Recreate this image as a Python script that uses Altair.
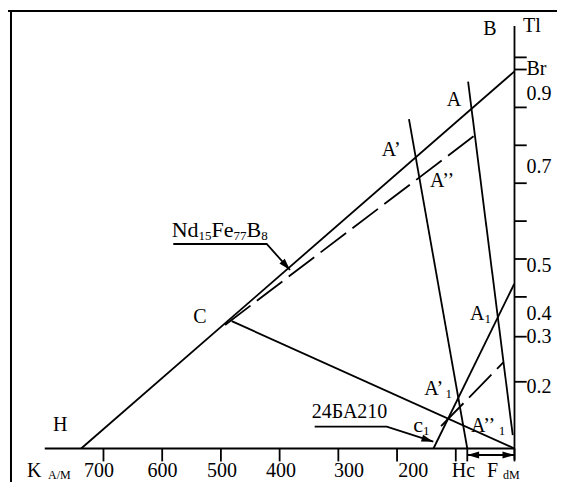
import altair as alt
import pandas as pd

# ---------------- plot calibration ----------------
H_MIN, H_MAX = -72.4, 862.6      # H axis runs right-to-left (kA/m)
B_MIN, B_MAX = -0.0884, 1.1623   # B axis (T)
WIDTH, HEIGHT = 549, 474
PX_H = WIDTH / (H_MAX - H_MIN)
PX_B = HEIGHT / (B_MAX - B_MIN)
FONT = "Liberation Serif"

# ---------------- curves (H kA/m, B T) ----------------
ndfeb_H = [738, 0];        ndfeb_B = [0, 0.995]      # Nd15Fe77B8 demagnetisation line
load_H = [481.6, 0];       load_B = [0.336, 0]       # C -> origin
lineA_H = [79, 3];         lineA_B = [0.968, 0.035]  # through A
lineA2_H = [179.7, 80.4];  lineA2_B = [0.869, 0]     # through A'
c1_H = [138, 0.5];         c1_B = [0, 0.434]         # 24BA210 line
recoil_H = [493, 64.4];    recoil_B = [0.326, 0.83]  # dashed, through A''
recoil1_H = [125, 19];     recoil1_B = [0.059, 0.227]  # dashed, through A''1

# axes
xaxis_H = [800, 0];        xaxis_B = [0, 0]
yaxis_H = [0, 0];          yaxis_B = [-0.03, 1.115]
x_ticks = [700, 600, 500, 400, 300, 200, 100, 80.4, 0]
x_tick_end = -0.034
y_ticks = [0.176, 0.295, 0.4, 0.5, 0.6, 0.7, 0.8, 0.9, 1.0, 1.032]
y_tick_end = -20.8
x_labels = ["700", "600", "500", "400", "300", "200"]
x_label_H = [707.6, 599.5, 498, 397.6, 281.8, 172.3]
y_labels = ["Br", "0.9", "0.7", "0.5", "0.4", "0.3", "0.2"]
y_label_B = [0.9855, 0.9195, 0.7261, 0.4665, 0.339, 0.2776, 0.1464]
bottom_label_B = -0.0765
bottom_sub_B = -0.0805

# frame
frame_top_B = 1.1544
frame_left_H = 857.5

# arrows
arrow_nd_H = [581.1, 422.0, 382.3];  arrow_nd_B = [0.5396, 0.5396, 0.471]
arrow_24_H = [340.3, 217.6, 138.3];  arrow_24_B = [0.0575, 0.0575, 0.0179]
arrow_f_H = [80.4, 0.3];             arrow_f_B = [-0.0172, -0.0172]
head_H = [382.3, 138.3, 80.4, 0.3]
head_B = [0.471, 0.0179, -0.0172, -0.0172]
head_angle = [48, 17.8, 180, 0]

# ---------------- build tables ----------------
segs = []
def add(name, Hs, Bs, dashed=False):
    for i, (h, b) in enumerate(zip(Hs, Bs)):
        segs.append(dict(id=name, H=h, B=b, seq=i, dashed=dashed))

add("ndfeb", ndfeb_H, ndfeb_B)
add("load", load_H, load_B)
add("A", lineA_H, lineA_B)
add("A2", lineA2_H, lineA2_B)
add("c1", c1_H, c1_B)
add("xaxis", xaxis_H, xaxis_B)
add("yaxis", yaxis_H, yaxis_B)
add("arr_nd", arrow_nd_H, arrow_nd_B)
add("arr_24", arrow_24_H, arrow_24_B)
add("arr_f", arrow_f_H, arrow_f_B)
add("recoil", recoil_H, recoil_B, True)
add("recoil1", recoil1_H, recoil1_B, True)
seg_df = pd.DataFrame(segs)

xt_df = pd.DataFrame(dict(H=x_ticks, B=[0] * len(x_ticks), B2=[x_tick_end] * len(x_ticks)))
yt_df = pd.DataFrame(dict(B=y_ticks, H=[0] * len(y_ticks), H2=[y_tick_end] * len(y_ticks)))
frame_df = pd.DataFrame([
    dict(H=H_MAX, H2=H_MIN, B=frame_top_B, B2=frame_top_B),
    dict(H=frame_left_H, H2=frame_left_H, B=frame_top_B, B2=B_MIN),
])
head_df = pd.DataFrame(dict(H=head_H, B=head_B, angle=head_angle))

# text with subscripts
WID = {'A': 722, 'N': 722, 'd': 500, 'F': 556, 'e': 444, 'B': 667, 'c': 444,
       '’': 333, 'H': 722, 'K': 722, 'M': 889, '/': 278, 'T': 611, 'l': 278,
       'r': 333, '.': 250}
def tw(s, size):
    return sum(WID.get(ch, 500) for ch in s) / 1000 * size

texts = []
def label(parts, H0, B0):
    x = 0.0
    for s, size, sub in parts:
        drop = 3 if sub else 0
        texts.append(dict(text=s, H=H0 - x / PX_H, B=B0 - drop / PX_B, size=size))
        x += tw(s, size)

M, S = 20, 13
label([("B", M, False)], 53.1, 1.091)
label([("Tl", M, False)], -14.5, 1.0997)
for t, b in zip(y_labels, y_label_B):
    label([(t, M, False)], -20.5, b)
label([("K", M, False)], 830.2, bottom_label_B)
label([("A/M", 12, False)], 794.4, bottom_sub_B)
label([("F", M, False)], 46.8, bottom_label_B)
label([("dM", 12, False)], 19.6, bottom_sub_B)
label([("H", M, False)], 786, 0.047)
label([("C", M, False)], 547, 0.330)
label([("A", M, False)], 115.5, 0.9037)
label([("A’", M, False)], 226.2, 0.7718)
label([("A’’", M, False)], 143.9, 0.690)
label([("A", M, False), ("1", S, True)], 75.8, 0.339)
label([("A’", M, False), ("1", S, True)], 153.6, 0.1412)
label([("A’’", M, False), ("1", S, True)], 74.1, 0.0443)
label([("c", 22, False), ("1", S, True)], 172.3, 0.0435)
label([("24БА210", M, False)], 345.4, 0.0797)
label([("Nd", 22, False), ("15", S, True), ("Fe", 22, False), ("77", S, True),
       ("B", 22, False), ("8", S, True)], 583.8, 0.5588)
text_df = pd.DataFrame(texts)

ctext_df = pd.DataFrame(dict(text=x_labels + ["Hc"], H=x_label_H + [86.9],
                             B=[bottom_label_B] * (len(x_labels) + 1)))

# ---------------- chart ----------------
xs = alt.Scale(domain=[H_MIN, H_MAX], reverse=True, nice=False, zero=False)
ys = alt.Scale(domain=[B_MIN, B_MAX], nice=False, zero=False)
X = lambda f: alt.X(f, type="quantitative", scale=xs, axis=None)
Y = lambda f: alt.Y(f, type="quantitative", scale=ys, axis=None)

solid = alt.Chart(seg_df).transform_filter("!datum.dashed").mark_line(
    color="black", strokeWidth=1.8).encode(
    x=X("H"), y=Y("B"), detail="id:N", order="seq:Q")
dashed = alt.Chart(seg_df).transform_filter("datum.dashed").mark_line(
    color="black", strokeWidth=1.8, strokeDash=[32, 8]).encode(
    x=X("H"), y=Y("B"), detail="id:N", order="seq:Q")
xt = alt.Chart(xt_df).mark_rule(color="black", strokeWidth=1.8).encode(
    x=X("H"), y=Y("B"), y2="B2")
yt = alt.Chart(yt_df).mark_rule(color="black", strokeWidth=1.8).encode(
    y=Y("B"), x=X("H"), x2="H2")
frame = alt.Chart(frame_df).mark_rule(color="black", strokeWidth=2).encode(
    x=X("H"), x2="H2", y=Y("B"), y2="B2")
heads = alt.Chart(head_df).mark_point(
    shape="M0,0L-1,-0.3L-1,0.3Z", filled=True, size=560, color="black",
    opacity=1, strokeWidth=0).encode(
    x=X("H"), y=Y("B"), angle=alt.Angle("angle:Q", scale=None))
ltext = alt.Chart(text_df).mark_text(
    align="left", baseline="alphabetic", font=FONT, color="black").encode(
    x=X("H"), y=Y("B"), text="text:N", size=alt.Size("size:Q", scale=None))
ctext = alt.Chart(ctext_df).mark_text(
    align="center", baseline="alphabetic", font=FONT, color="black", fontSize=20).encode(
    x=X("H"), y=Y("B"), text="text:N")

chart = alt.layer(frame, solid, dashed, xt, yt, heads, ltext, ctext).properties(
    width=WIDTH, height=HEIGHT, padding=0,
    autosize=alt.AutoSizeParams(type="none"),
    background="white",
).configure_view(stroke=None)

chart.save("out.html", embed_options={"renderer": "svg", "actions": False})
